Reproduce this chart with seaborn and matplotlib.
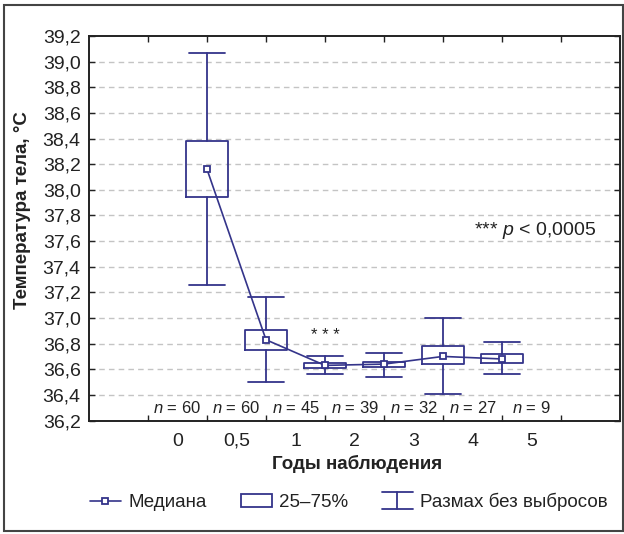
import matplotlib
matplotlib.use("Agg")
import matplotlib.pyplot as plt
import seaborn as sns
import pandas as pd
from matplotlib.patches import Rectangle
from matplotlib.lines import Line2D
from matplotlib.legend_handler import HandlerBase

# Observation years and group sizes
year_labels = ["0", "0,5", "1", "2", "3", "4", "5"]
n_obs = [60, 60, 45, 39, 32, 27, 9]

# Body temperature summary per group (°C)
medians = [38.16, 36.83, 36.63, 36.64, 36.70, 36.68]
q25 = [37.94, 36.75, 36.61, 36.62, 36.64, 36.65]
q75 = [38.38, 36.91, 36.65, 36.66, 36.78, 36.72]
whisk_lo = [37.26, 36.50, 36.56, 36.54, 36.41, 36.56]
whisk_hi = [39.07, 37.16, 36.70, 36.73, 37.00, 36.81]

y_ticks = [36.2, 36.4, 36.6, 36.8, 37.0, 37.2, 37.4, 37.6, 37.8,
           38.0, 38.2, 38.4, 38.6, 38.8, 39.0, 39.2]

NAVY = "#34348a"
AXC = "#222222"

sns.set_theme(style="white")
plt.rcParams["font.family"] = ["Liberation Sans", "DejaVu Sans"]
plt.rcParams["mathtext.fontset"] = "custom"
plt.rcParams["mathtext.it"] = "Liberation Sans:italic"
plt.rcParams["mathtext.rm"] = "Liberation Sans"

W, H = 624, 534
fig = plt.figure(figsize=(W / 100, H / 100), dpi=100)
ax_l, ax_r, ax_t, ax_b = 89, 620, 36, 420.5
ax = fig.add_axes([ax_l / W, 1 - ax_b / H, (ax_r - ax_l) / W, (ax_b - ax_t) / H])

label_pos = [i + 1.5 for i in range(len(year_labels))]
box_pos = [i + 2 for i in range(len(medians))]

stats = []
for i in range(len(medians)):
    stats.append(dict(med=medians[i], q1=q25[i], q3=q75[i],
                      whislo=whisk_lo[i], whishi=whisk_hi[i], fliers=[]))

lw = 1.3
ax.bxp(stats, positions=box_pos, widths=0.7, capwidths=0.6, showfliers=False,
       boxprops=dict(color=NAVY, lw=lw), whiskerprops=dict(color=NAVY, lw=lw),
       capprops=dict(color=NAVY, lw=lw), medianprops=dict(linestyle="none"),
       manage_ticks=False, zorder=3)

df = pd.DataFrame({"pos": box_pos, "median": medians})
sns.lineplot(data=df, x="pos", y="median", ax=ax, color=NAVY, lw=1.2,
             marker="s", markersize=4.6, markerfacecolor="white",
             markeredgecolor=NAVY, markeredgewidth=1.3, zorder=5)

ax.set_xlim(0, 9)
ax.set_ylim(36.2, 39.2)
ax.set_xlabel("")
ax.set_ylabel("")

# grid
for v in y_ticks[1:-1]:
    ax.axhline(v, color="#c4c4c4", lw=1.0, ls=(0, (4, 3)), zorder=0)

# ticks
ax.set_xticks(range(1, 9))
ax.set_xticklabels([])
ax.set_xticks(label_pos, minor=True)
ax.set_xticklabels(year_labels, minor=True)
ax.tick_params(axis="x", which="major", direction="in", length=4, width=1,
               color=AXC, top=True, bottom=True)
ax.tick_params(axis="x", which="minor", length=0, pad=18, labelsize=14,
               labelcolor="#222222")
for t in ax.get_xticklabels(minor=True):
    t.set_va("baseline")
ax.set_yticks(y_ticks)
ax.set_yticklabels([f"{v:.1f}".replace(".", ",") for v in y_ticks])
ax.tick_params(axis="y", direction="in", length=4, width=1, color=AXC,
               left=True, right=True, pad=6, labelsize=14, labelcolor="#222222")

for sp in ax.spines.values():
    sp.set_color(AXC)
    sp.set_linewidth(1.4)
    sp.set_visible(True)

# group sizes
for x, n in zip(label_pos, n_obs):
    ax.text(x, 36.30, f"$n$ = {n}", ha="center", va="center", fontsize=12,
            color="#222222")

ax.text(4, 36.86, "* * *", ha="center", va="center", fontsize=12, color="#222222")
ax.text(8.59, 37.68, "*** $p$ < 0,0005", ha="right", va="center", fontsize=14,
        color="#222222")

fig.text(23 / W, 1 - 210 / H, "Температура тела, °C", rotation=90, ha="center",
         va="center", fontsize=13.5, fontweight="bold", color="#222222")
fig.text(357 / W, 1 - 464 / H, "Годы наблюдения", ha="center", va="center",
         fontsize=13.5, fontweight="bold", color="#222222")


class RangeHandler(HandlerBase):
    def create_artists(self, legend, orig_handle, xdescent, ydescent, width,
                       height, fontsize, trans):
        cx = width / 2 - xdescent
        y0 = -ydescent - height * 0.15
        y1 = -ydescent + height * 1.15
        arts = [
            Line2D([cx, cx], [y0, y1], color=NAVY, lw=lw),
            Line2D([-xdescent, width - xdescent], [y0, y0], color=NAVY, lw=lw),
            Line2D([-xdescent, width - xdescent], [y1, y1], color=NAVY, lw=lw),
        ]
        for a in arts:
            a.set_transform(trans)
        return arts


h_med = Line2D([], [], color=NAVY, lw=1.2, marker="s", markersize=4.6,
               markerfacecolor="white", markeredgecolor=NAVY, markeredgewidth=1.3)
h_box = Rectangle((0, 0), 1, 1, facecolor="white", edgecolor=NAVY, lw=lw)
h_rng = object()

fig.legend([h_med, h_box, h_rng], ["Медиана", "25–75%", "Размах без выбросов"],
           handler_map={object: RangeHandler()},
           loc="center left", bbox_to_anchor=(90 / W, 1 - 502 / H), ncol=3,
           frameon=False, fontsize=13.5, handlelength=1.65, handleheight=0.7,
           handletextpad=0.4, columnspacing=1.8, borderpad=0, borderaxespad=0,
           labelcolor="#222222")

fig.patches.append(Rectangle((4 / W, 3 / H), (623 - 4) / W, (529 - 3) / H,
                             transform=fig.transFigure, fill=False,
                             edgecolor="#444444", lw=1.5))

fig.savefig("out.png", dpi=100)
